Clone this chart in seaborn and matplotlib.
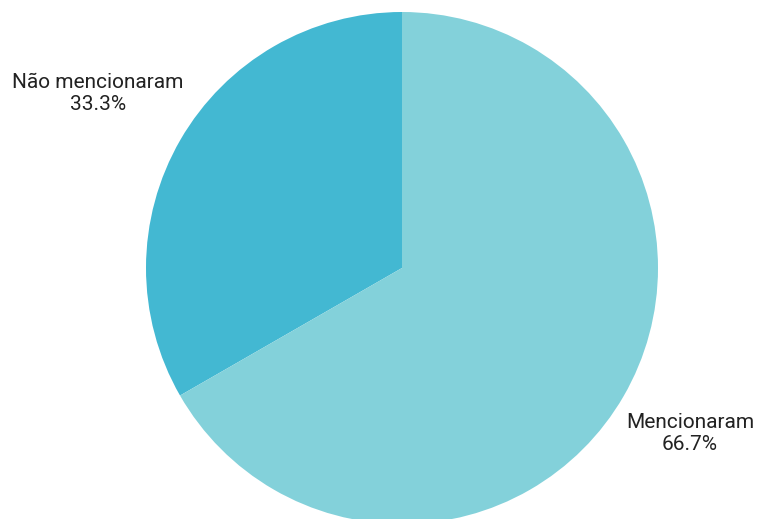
import matplotlib
matplotlib.use("Agg")
import matplotlib.pyplot as plt
import seaborn as sns

labels = ["Não mencionaram", "Mencionaram"]
values = [33.3, 66.7]
colors = ["#43b8d2", "#83d1da"]

sns.set_theme(style="white")
plt.rcParams['font.family'] = ['Roboto', 'DejaVu Sans']

fig = plt.figure(figsize=(7.57, 5.19), dpi=100)
ax = fig.add_axes([0, 0, 1, 1])

ax.pie(values, colors=colors, startangle=90, center=(402, 251),
       radius=256, frame=True, wedgeprops=dict(linewidth=0))
ax.set_xlim(0, 757)
ax.set_ylim(0, 519)
ax.set_aspect('equal')
ax.axis('off')

ax.text(98, 426, f"{labels[0]}\n{values[0]}%", ha='center', va='center',
        fontsize=15, color='#222222', linespacing=1.2)
ax.text(690, 85, f"{labels[1]}\n{values[1]}%", ha='center', va='center',
        fontsize=15, color='#222222', linespacing=1.2)

fig.savefig("out.png", dpi=100)
